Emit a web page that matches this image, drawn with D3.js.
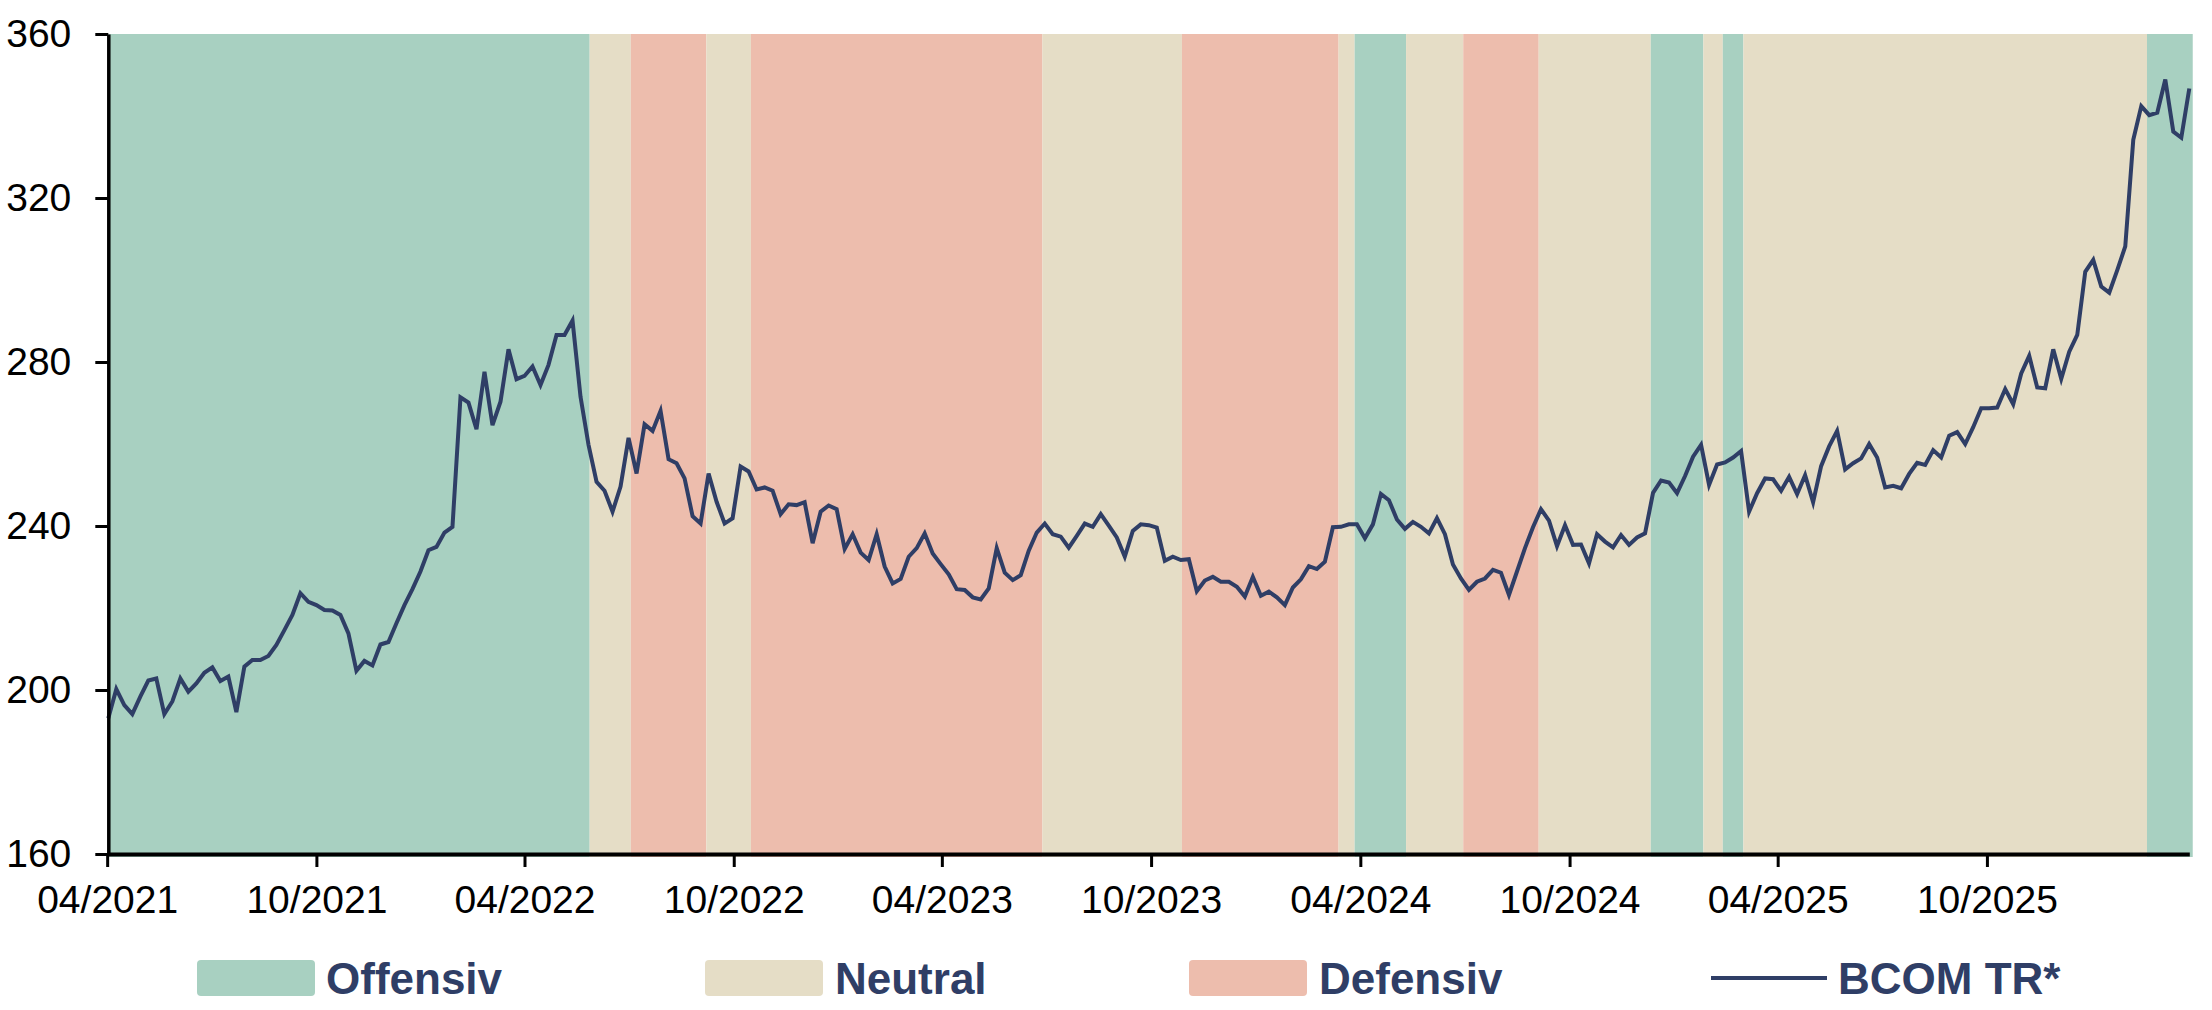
<!DOCTYPE html>
<html>
<head>
<meta charset="utf-8">
<script src="https://cdn.jsdelivr.net/npm/d3@7"></script>
<style>
  html, body { margin: 0; padding: 0; background: #ffffff; }
  svg { display: block; }
</style>
</head>
<body>
<svg id="chart" width="2212" height="1010"></svg>
<script>
// ---------------- DATA ----------------
// weekly observations (Fridays) starting at this date
const firstWeek = "2021-04-02";
const bcomValues = [
  193.1, 200.2, 196.3, 194.1, 198.4, 202.3, 202.8, 194.1, 197.2, 202.8,
  199.6, 201.6, 204.2, 205.5, 202.2, 203.3, 194.6, 205.7, 207.3, 207.3,
  208.3, 211.0, 214.6, 218.3, 223.6, 221.5, 220.7, 219.5, 219.4, 218.3,
  213.8, 204.7, 207.1, 206.0, 211.1, 211.7, 216.3, 220.7, 224.6, 228.9,
  234.1, 234.9, 238.4, 239.8, 271.4, 270.1, 263.6, 277.6, 264.6, 270.3,
  283.1, 275.8, 276.6, 278.9, 274.4, 279.3, 286.6, 286.6, 290.1, 271.5,
  259.8, 250.8, 248.6, 243.5, 249.6, 261.5, 252.8, 264.8, 263.2, 268.1,
  256.3, 255.3, 251.6, 242.4, 240.6, 252.8, 245.9, 240.6, 241.9, 254.5,
  253.3, 248.9, 249.4, 248.6, 242.9, 245.3, 245.1, 245.8, 235.8, 243.5,
  245.0, 244.1, 234.4, 238.0, 233.5, 231.7, 238.0, 230.1, 226.0, 227.1,
  232.5, 234.6, 238.2, 233.3, 230.7, 228.2, 224.6, 224.4, 222.6, 222.1,
  224.8, 234.6, 228.6, 226.8, 228.0, 234.0, 238.4, 240.6, 238.0, 237.4,
  234.7, 237.6, 240.6, 239.8, 242.9, 240.1, 237.2, 232.5, 238.8, 240.4,
  240.2, 239.6, 231.5, 232.5, 231.7, 231.9, 224.1, 226.7, 227.6, 226.4,
  226.4, 225.2, 222.8, 227.6, 223.0, 224.0, 222.6, 220.7, 225.0, 227.0,
  230.2, 229.5, 231.3, 239.7, 239.8, 240.4, 240.4, 237.0, 240.4, 247.8,
  246.3, 241.6, 239.3, 241.0, 239.8, 238.2, 241.9, 238.0, 230.6, 227.2,
  224.4, 226.4, 227.2, 229.3, 228.6, 223.2, 228.9, 234.6, 239.7, 244.1,
  241.3, 235.1, 240.2, 235.4, 235.5, 230.9, 238.0, 236.2, 234.8, 237.8,
  235.4, 237.2, 238.2, 248.1, 251.1, 250.6, 248.0, 252.2, 256.9, 259.8,
  250.0, 255.0, 255.5, 256.7, 258.3, 243.5, 248.0, 251.6, 251.4, 248.6,
  252.0, 247.8, 252.4, 245.8, 254.6, 259.4, 263.2, 253.8, 255.3, 256.5,
  260.0, 256.7, 249.4, 249.8, 249.2, 252.7, 255.4, 254.9, 258.5, 256.7,
  262.0, 262.9, 260.0, 264.1, 268.7, 268.7, 268.9, 273.4, 269.7, 277.2,
  281.5, 273.8, 273.6, 283.1, 275.9, 282.5, 286.6, 302.0, 304.9, 298.4,
  296.9, 302.4, 308.2, 334.2, 342.4, 340.2, 340.8, 348.9, 336.2, 334.7,
  346.7
];

// regime periods (background bands)
const bandStarts = [
  "2021-04-02", "2022-05-28", "2022-07-03", "2022-09-07", "2022-10-16",
  "2023-06-28", "2023-10-28", "2024-03-13", "2024-03-27", "2024-05-11",
  "2024-06-30", "2024-09-04", "2024-12-11", "2025-01-26", "2025-02-12",
  "2025-03-02", "2026-02-18"
];
const bandEnds = [
  "2022-05-28", "2022-07-03", "2022-09-07", "2022-10-16", "2023-06-28",
  "2023-10-28", "2024-03-13", "2024-03-27", "2024-05-11", "2024-06-30",
  "2024-09-04", "2024-12-11", "2025-01-26", "2025-02-12", "2025-03-02",
  "2026-02-18", "2026-03-30"
];
const bandRegimes = [
  "Offensiv", "Neutral", "Defensiv", "Neutral", "Defensiv",
  "Neutral", "Defensiv", "Neutral", "Offensiv", "Neutral",
  "Defensiv", "Neutral", "Offensiv", "Neutral", "Offensiv",
  "Neutral", "Offensiv"
];

const regimeNames = ["Offensiv", "Neutral", "Defensiv"];
const seriesName = "BCOM TR*";

const xTickDates = [
  "2021-04-01", "2021-10-01", "2022-04-01", "2022-10-01", "2023-04-01",
  "2023-10-01", "2024-04-01", "2024-10-01", "2025-04-01", "2025-10-01"
];
const xTickLabels = [
  "04/2021", "10/2021", "04/2022", "10/2022", "04/2023",
  "10/2023", "04/2024", "10/2024", "04/2025", "10/2025"
];
const yTicks = [160, 200, 240, 280, 320, 360];

// ---------------- STYLE ----------------
const regimeColors = { "Offensiv": "#a8d0c1", "Neutral": "#e5ddc6", "Defensiv": "#edbdad" };
const lineColor = "#2f3e66";
const fontFamily = "'Liberation Sans', Arial, Helvetica, sans-serif";

// ---------------- CHART ----------------
const parse = d3.utcParse("%Y-%m-%d");
const start = parse(firstWeek);
const series = bcomValues.map((v, i) => ({ date: d3.utcDay.offset(start, 7 * i), value: v }));

const plot = { left: 108.3, right: 2189.3, top: 34, bottom: 854 };

const x = d3.scaleUtc()
  .domain([series[0].date, series[series.length - 1].date])
  .range([plot.left, plot.right]);

const y = d3.scaleLinear()
  .domain([160, 360])
  .range([plot.bottom, plot.top]);

const svg = d3.select("#chart");

// bands
const bands = bandStarts.map((s, i) => ({ start: parse(s), end: parse(bandEnds[i]), regime: bandRegimes[i] }));
svg.append("g").selectAll("rect")
  .data(bands)
  .join("rect")
  .attr("x", d => Math.max(plot.left, x(d.start)))
  .attr("y", plot.top)
  .attr("width", d => x(d.end) - Math.max(plot.left, x(d.start)))
  .attr("height", plot.bottom - plot.top + 3)
  .attr("fill", d => regimeColors[d.regime]);

// line
const line = d3.line().x(d => x(d.date)).y(d => y(d.value));
svg.append("path")
  .datum(series)
  .attr("d", line)
  .attr("fill", "none")
  .attr("stroke", lineColor)
  .attr("stroke-width", 4)
  .attr("stroke-linejoin", "miter")
  .attr("stroke-miterlimit", 4);

// y axis
const yAxis = d3.axisLeft(y)
  .tickValues(yTicks)
  .tickFormat(d3.format("d"))
  .tickSize(13)
  .tickSizeOuter(0)
  .tickPadding(24);
const gy = svg.append("g")
  .attr("transform", `translate(${plot.left},0)`)
  .call(yAxis);
gy.select(".domain").attr("stroke", "#000").attr("stroke-width", 3.5);
gy.selectAll(".tick line").attr("stroke", "#000").attr("stroke-width", 3);
gy.selectAll(".tick text")
  .attr("font-family", fontFamily)
  .attr("font-size", 39)
  .attr("fill", "#000");

// x axis
const xAxis = d3.axisBottom(x)
  .tickValues(xTickDates.map(parse))
  .tickFormat((d, i) => xTickLabels[i])
  .tickSize(13)
  .tickSizeOuter(0)
  .tickPadding(18);
const gx = svg.append("g")
  .attr("transform", `translate(0,${plot.bottom})`)
  .call(xAxis);
gx.select(".domain").attr("stroke", "#000").attr("stroke-width", 4);
gx.selectAll(".tick line").attr("stroke", "#000").attr("stroke-width", 3);
gx.selectAll(".tick text")
  .attr("font-family", fontFamily)
  .attr("font-size", 39)
  .attr("fill", "#000");

// legend
const legendY = 978;
const legendItems = [
  { type: "rect", name: regimeNames[0], x0: 197, textX: 326 },
  { type: "rect", name: regimeNames[1], x0: 705, textX: 835 },
  { type: "rect", name: regimeNames[2], x0: 1189, textX: 1319 },
  { type: "line", name: seriesName, x0: 1711, textX: 1838 }
];
const lg = svg.append("g");
legendItems.forEach(it => {
  if (it.type === "rect") {
    lg.append("rect")
      .attr("x", it.x0).attr("y", legendY - 18)
      .attr("width", 118).attr("height", 36)
      .attr("rx", 4)
      .attr("fill", regimeColors[it.name]);
  } else {
    lg.append("line")
      .attr("x1", it.x0).attr("x2", it.x0 + 116)
      .attr("y1", legendY).attr("y2", legendY)
      .attr("stroke", lineColor).attr("stroke-width", 4);
  }
  lg.append("text")
    .attr("x", it.textX).attr("y", legendY)
    .attr("dy", "0.36em")
    .attr("font-family", fontFamily)
    .attr("font-size", 44)
    .attr("font-weight", "bold")
    .attr("fill", lineColor)
    .text(it.name);
});
</script>
</body>
</html>
